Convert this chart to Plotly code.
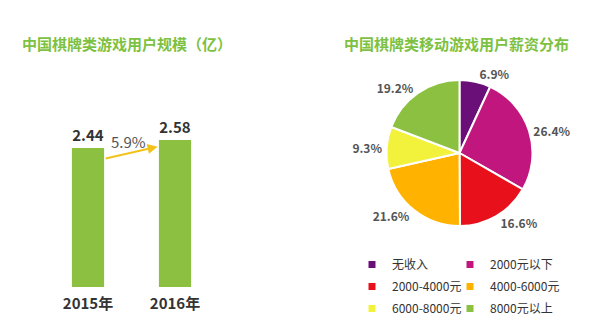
import plotly.graph_objects as go

years = ["2015年", "2016年"]
users = [2.44, 2.58]
growth_label = "5.9%"

salary_labels = ["无收入", "2000元以下", "2000-4000元", "4000-6000元", "6000-8000元", "8000元以上"]
salary_share = [6.9, 26.4, 16.6, 21.6, 9.3, 19.2]
salary_colors = ["#6b0f78", "#c2167f", "#e8111b", "#ffb300", "#f2f23c", "#8cc040"]

W, H = 600, 329
fig = go.Figure()

fig.add_trace(go.Bar(
    x=years, y=users, width=0.37,
    marker=dict(color="#8cc040", line=dict(width=0)),
    texttemplate="<b>%{y:.2f}</b>", textposition="outside",
    textfont=dict(size=15, color="#333333", family="Noto Sans CJK SC"),
    cliponaxis=False, showlegend=False, xaxis="x", yaxis="y",
))

fig.add_trace(go.Pie(
    labels=salary_labels, values=salary_share, sort=False, direction="clockwise",
    rotation=0, marker=dict(colors=salary_colors, line=dict(color="white", width=2)),
    texttemplate="<b>%{value:.1f}%</b>", textposition="outside",
    textfont=dict(size=12, color="#555555", family="Noto Sans CJK SC"),
    domain=dict(x=[386.5 / W, 532.5 / W], y=[1 - 226 / H, 1 - 80 / H]),
    showlegend=False, hoverinfo="label+value",
))

# legend entries for the pie, split into two columns (row-major order)
for i, (lab, col) in enumerate(zip(salary_labels, salary_colors)):
    fig.add_trace(go.Scatter(
        x=[None], y=[None], mode="markers", name=lab,
        marker=dict(symbol="square", size=7, color=col),
        legend="legend" if i % 2 == 0 else "legend2",
        legendgroup=f"g{i}", showlegend=True, hoverinfo="skip",
        xaxis="x", yaxis="y",
    ))

leg_common = dict(orientation="v", yanchor="top", xanchor="left", tracegroupgap=3,
                  font=dict(size=12, color="#333333", family="Noto Sans CJK SC"),
                  bgcolor="rgba(0,0,0,0)", traceorder="grouped", itemclick=False,
                  itemdoubleclick=False)

fig.update_layout(
    width=W, height=H, margin=dict(l=0, r=0, t=0, b=0),
    paper_bgcolor="white", plot_bgcolor="white",
    font=dict(family="Noto Sans CJK SC", color="#333333"),
    xaxis=dict(domain=[44.5 / W, 218.5 / W], range=[-0.5, 1.5], showgrid=False, zeroline=False,
               showline=False, ticks="", tickfont=dict(size=15, color="#333333", family="Noto Sans CJK SC"),
               type="category", tickprefix="<b>", ticksuffix="</b>", ticklabelstandoff=6),
    yaxis=dict(domain=[42 / H, 213 / H], range=[0, 3], showgrid=False, zeroline=False,
               showline=False, showticklabels=False),
    legend=dict(x=352 / W, y=1 - 250 / H, **leg_common),
    legend2=dict(x=450 / W, y=1 - 250 / H, **leg_common),
    annotations=[
        dict(text="<b>中国棋牌类游戏用户规模（亿）</b>", xref="paper", yref="paper",
             x=127 / W, y=1 - 43 / H, xanchor="center", yanchor="middle", showarrow=False,
             font=dict(size=15, color="#7dc142")),
        dict(text="<b>中国棋牌类移动游戏用户薪资分布</b>", xref="paper", yref="paper",
             x=456 / W, y=1 - 43 / H, xanchor="center", yanchor="middle", showarrow=False,
             font=dict(size=15, color="#7dc142")),
        dict(x=0.8, y=2.46, xref="x", yref="y", ax=0.185, ay=2.25, axref="x", ayref="y",
             showarrow=True, arrowhead=2, arrowsize=1, arrowwidth=2, arrowcolor="#f2c21b", text=""),
        dict(x=0.46, y=2.56, xref="x", yref="y", text=growth_label, showarrow=False,
             font=dict(size=15, color="#555555")),
    ],
)

fig.write_html("out.html")
